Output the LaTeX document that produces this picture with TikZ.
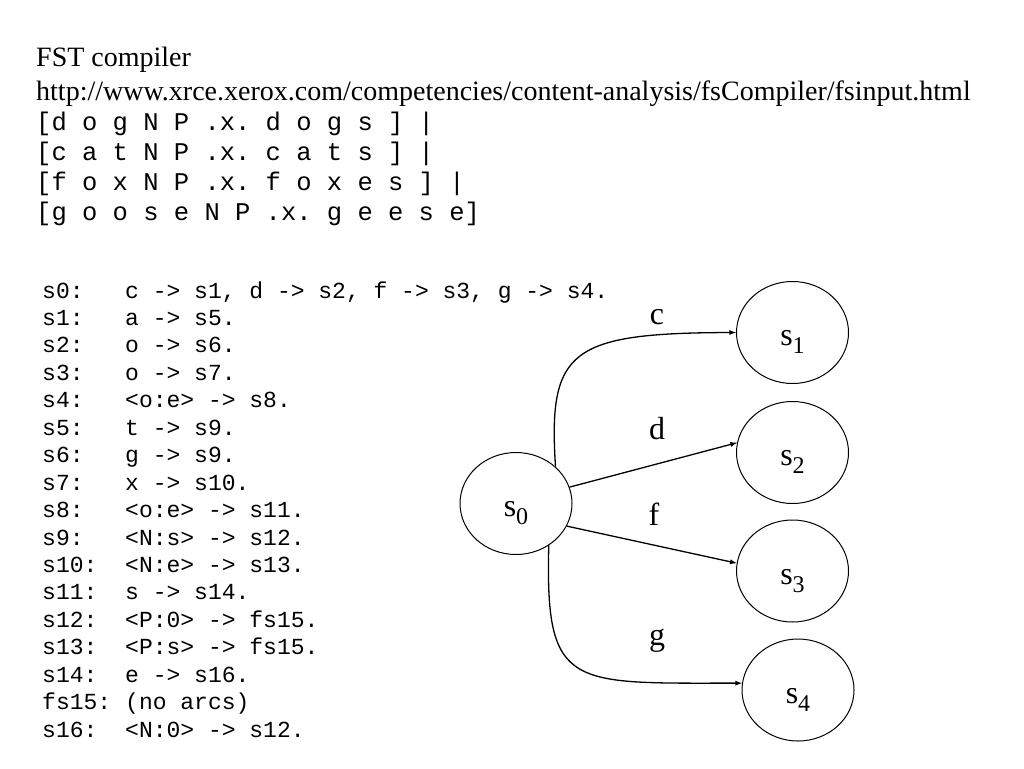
\documentclass[tikz,border=0pt]{standalone}
\usepackage{fontspec}
\setmainfont{Liberation Serif}
\setmonofont{Liberation Mono}
\usetikzlibrary{shapes,arrows,positioning}

\newcommand{\statelbl}[1]{s\raisebox{-8pt}{\fontsize{24}{24}\selectfont #1}}

\tikzset{
  headline/.style={anchor=base west, inner sep=0pt, font=\fontsize{28}{28}\selectfont},
  ruleline/.style={anchor=base west, inner sep=0pt, font=\ttfamily\fontsize{25.5}{25.5}\selectfont},
  arcline/.style={anchor=base west, inner sep=0pt, font=\ttfamily\fontsize{23}{23}\selectfont},
  state/.style={ellipse, draw, line width=1pt, minimum width=112pt, minimum height=102pt, inner sep=0pt, text height=30pt, text depth=4pt, font=\fontsize{32}{32}\selectfont},
  trans/.style={-latex, line width=1.3pt},
  translbl/.style={anchor=base, inner sep=0pt, font=\fontsize{32}{32}\selectfont}
}

\begin{document}
\begin{tikzpicture}[x=1pt, y=-1pt]
\useasboundingbox (0,0) rectangle (1024,768);

% Header
\node[headline] (title) at (36,66.7) {FST compiler};
\node[headline] (url) at (36,100) {http://www.xrce.xerox.com/competencies/content-analysis/fsCompiler/fsinput.html};

% Regular expression
\foreach \i/\txt in {0/{[d o g N P .x. d o g s ] |}, 1/{[c a t N P .x. c a t s ] |}, 2/{[f o x N P .x. f o x e s ] |}, 3/{[g o o s e N P .x. g e e s e]}} {
    \node[ruleline] (rule\i) at (36, 130.7+30*\i) {\txt};
}

% Compiled arcs, one line per state
\foreach \i/\nm/\arcs in {0/s0:/{c -> s1, d -> s2, f -> s3, g -> s4.}, 1/s1:/{a -> s5.}, 2/s2:/{o -> s6.}, 3/s3:/{o -> s7.}, 4/s4:/{<o:e> -> s8.}, 5/s5:/{t -> s9.}, 6/s6:/{g -> s9.}, 7/s7:/{x -> s10.}, 8/s8:/{<o:e> -> s11.}, 9/s9:/{<N:s> -> s12.}, 10/s10:/{<N:e> -> s13.}, 11/s11:/{s -> s14.}, 12/s12:/{<P:0> -> fs15.}, 13/s13:/{<P:s> -> fs15.}, 14/s14:/{e -> s16.}, 15/fs15:/{(no arcs)}, 16/s16:/{<N:0> -> s12.}} {
    \node[arcline] (name\i) at (42, 298+27.45*\i) {\nm};
    \node[arcline] (arcs\i) at (125, 298+27.45*\i) {\arcs};
}

% States
\node[state] (s0) at (516,503.5) {\statelbl{0}};
\node[state] (s1) at (792.5,332.5) {\statelbl{1}};
\node[state] (s2) at (792.5,452.5) {\statelbl{2}};
\node[state] (s3) at (792.5,571) {\statelbl{3}};
\node[state] (s4) at (798,690) {\statelbl{4}};

% Transitions
\draw[trans] (s0.43) .. controls (548,350) and (570,333) .. (s1.west);
\draw[trans] (s0.17) -- (s2.170);
\draw[trans] (s0.-24) -- (s3.172);
\draw[trans] (s0.-52) .. controls (545,690) and (570,683) .. (s4.173);

\node[translbl] (lblc) at (657,324) {c};
\node[translbl] (lbld) at (657,439) {d};
\node[translbl] (lblf) at (654,525) {f};
\node[translbl] (lblg) at (657,645) {g};

\end{tikzpicture}
\end{document}
